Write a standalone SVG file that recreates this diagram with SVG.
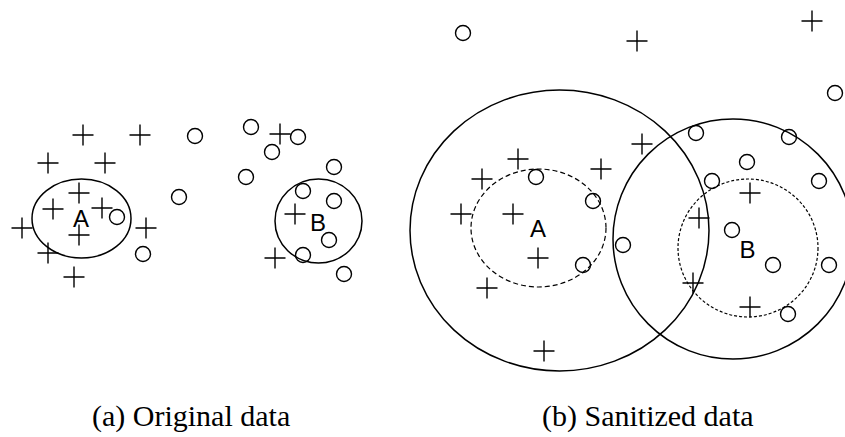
<svg xmlns="http://www.w3.org/2000/svg" xmlns:xlink="http://www.w3.org/1999/xlink" width="845" height="437" viewBox="0 0 845 437">
<style>
.bg{fill:#fff}
.ring{fill:none;stroke:#000;stroke-width:1.5}
.dashA{fill:none;stroke:#000;stroke-width:1.2;stroke-dasharray:5 3}
.dashB{fill:none;stroke:#000;stroke-width:1.2;stroke-dasharray:3 2}
.lbl{font-family:"Liberation Sans",Arial,sans-serif;font-size:24px;fill:#000;text-anchor:middle}
.cap{font-family:"Liberation Serif","Times New Roman",serif;font-size:30px;fill:#000}
</style>
<defs>
<path id="p" d="M-10.5,0H10.5M0,-10.5V10.5" fill="none" stroke="#000" stroke-width="1.4"/>
<circle id="o" r="7.5" fill="none" stroke="#000" stroke-width="1.4"/>
</defs>
<rect class="bg" width="845" height="437"/>
<g id="panel-a">
<g id="cluster-A-original">
<ellipse class="ring" cx="81.5" cy="218.5" rx="49.5" ry="39.5"/>
<text class="lbl" x="81" y="227">A</text>
</g>
<g id="cluster-B-original">
<ellipse class="ring" cx="318.5" cy="221" rx="43.5" ry="42"/>
<text class="lbl" x="318" y="231">B</text>
</g>
<g id="points-a-plus">
<use href="#p" x="83" y="135"/><use href="#p" x="140" y="135"/><use href="#p" x="48" y="163"/><use href="#p" x="105" y="163"/>
<use href="#p" x="79" y="193"/><use href="#p" x="53" y="209"/><use href="#p" x="102" y="208"/><use href="#p" x="22" y="228"/>
<use href="#p" x="79" y="235"/><use href="#p" x="146" y="228"/><use href="#p" x="48" y="253"/><use href="#p" x="74" y="277"/>
<use href="#p" x="280" y="134"/><use href="#p" x="295" y="214"/><use href="#p" x="275" y="258"/>
</g>
<g id="points-a-circle">
<use href="#o" x="195" y="136"/><use href="#o" x="251" y="127"/><use href="#o" x="298" y="137"/><use href="#o" x="272" y="152"/>
<use href="#o" x="334" y="167"/><use href="#o" x="246" y="177"/><use href="#o" x="179" y="197"/><use href="#o" x="303" y="191"/>
<use href="#o" x="334" y="201"/><use href="#o" x="329" y="240"/><use href="#o" x="303" y="255"/><use href="#o" x="344" y="274"/>
<use href="#o" x="117" y="217"/><use href="#o" x="143" y="254"/>
</g>
<text id="caption-a" class="cap" x="92" y="426">(a) Original data</text>
</g>
<g id="panel-b">
<g id="cluster-A-sanitized">
<ellipse class="ring" cx="559.5" cy="230.5" rx="149.5" ry="140.5"/>
<ellipse class="dashA" cx="538.5" cy="228" rx="67.5" ry="59"/>
<text class="lbl" x="538" y="237">A</text>
</g>
<g id="cluster-B-sanitized">
<circle class="ring" cx="733" cy="239" r="120"/>
<ellipse class="dashB" cx="748" cy="248" rx="70" ry="69"/>
<text class="lbl" x="747.5" y="257.5">B</text>
</g>
<g id="points-b-plus">
<use href="#p" x="637" y="41"/><use href="#p" x="812" y="21"/><use href="#p" x="518" y="159"/><use href="#p" x="482" y="179"/>
<use href="#p" x="601" y="169"/><use href="#p" x="461" y="214"/><use href="#p" x="513" y="214"/><use href="#p" x="538" y="258"/>
<use href="#p" x="487" y="288"/><use href="#p" x="544" y="351"/><use href="#p" x="642" y="144"/><use href="#p" x="750" y="193"/>
<use href="#p" x="699" y="218"/><use href="#p" x="693" y="283"/><use href="#p" x="750" y="307"/>
</g>
<g id="points-b-circle">
<use href="#o" x="463" y="33"/><use href="#o" x="835" y="93"/><use href="#o" x="696" y="133"/><use href="#o" x="789" y="137"/>
<use href="#o" x="536" y="177"/><use href="#o" x="593" y="201"/><use href="#o" x="583" y="265"/><use href="#o" x="623" y="245"/>
<use href="#o" x="747" y="162"/><use href="#o" x="712" y="181"/><use href="#o" x="819" y="181"/><use href="#o" x="732" y="230"/>
<use href="#o" x="773" y="265"/><use href="#o" x="829" y="265"/><use href="#o" x="788" y="314"/>
</g>
<text id="caption-b" class="cap" x="542" y="426">(b) Sanitized data</text>
</g>
</svg>
